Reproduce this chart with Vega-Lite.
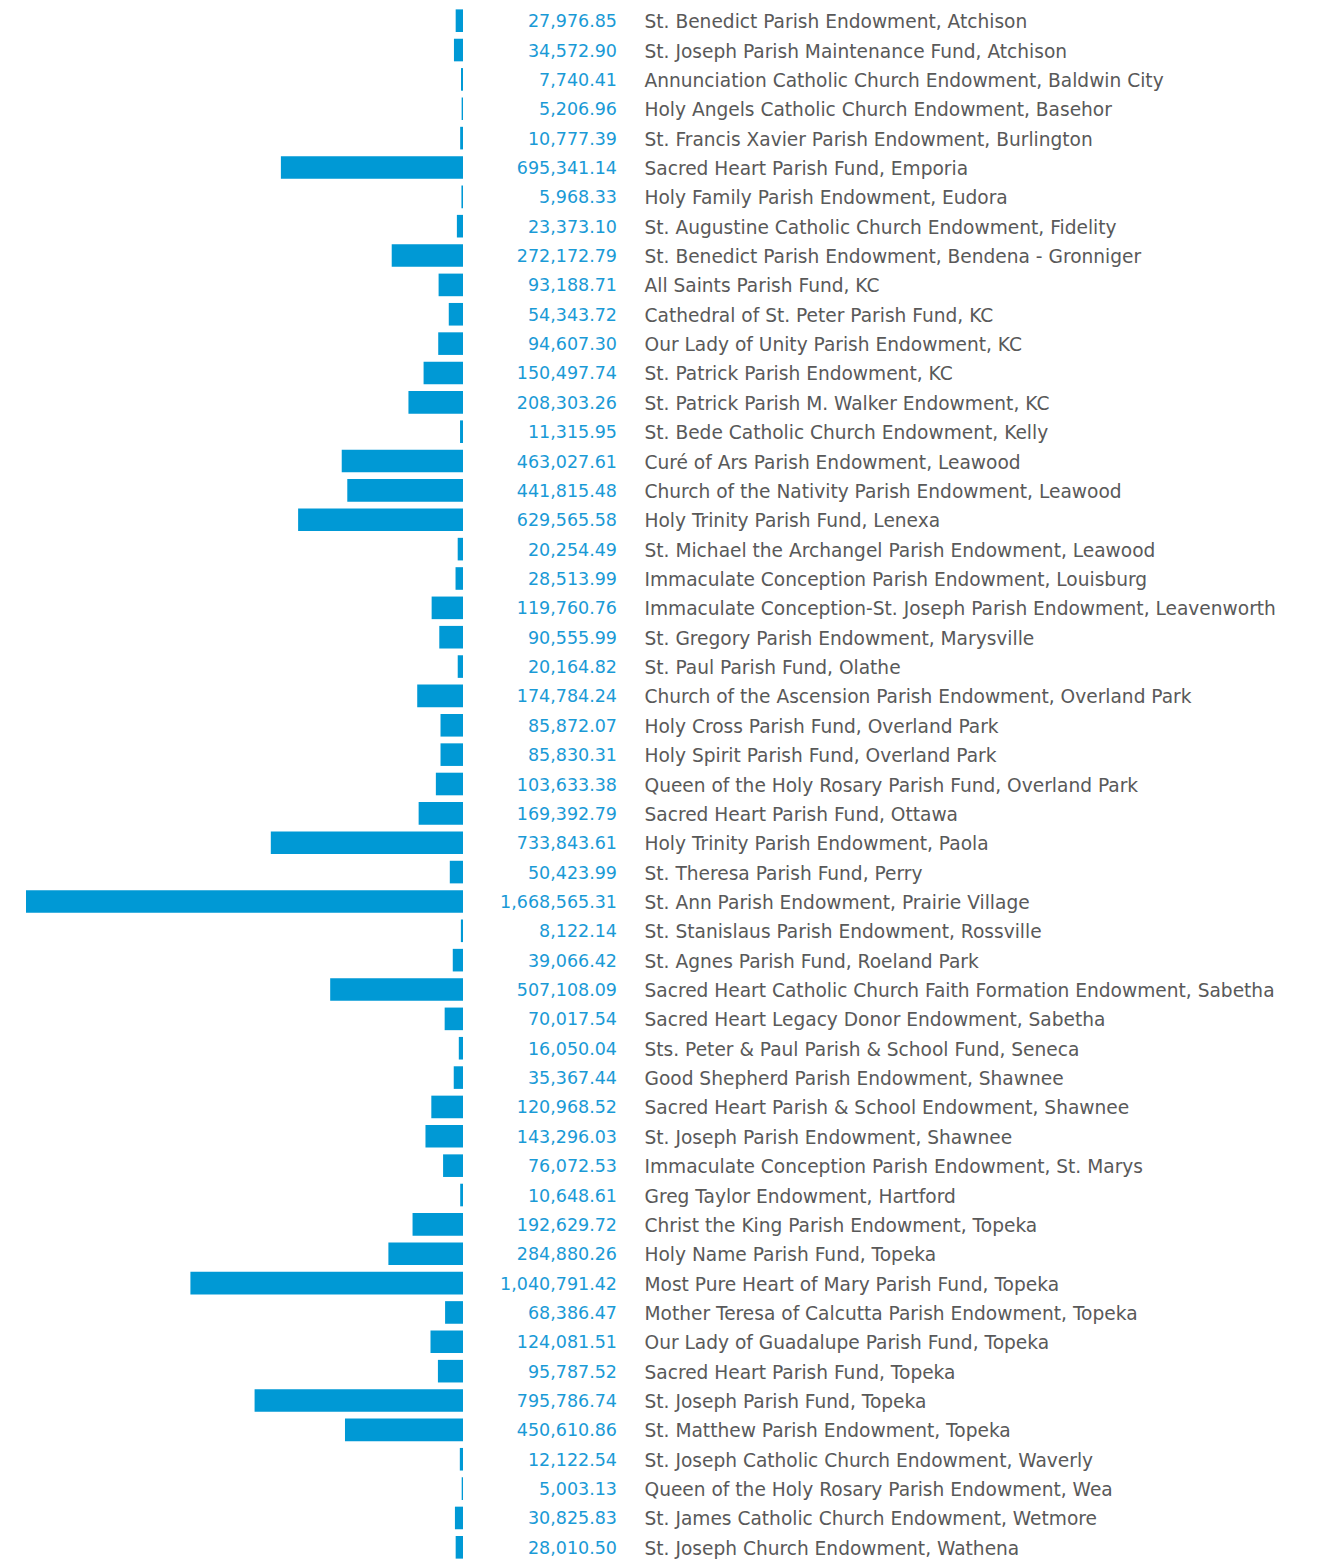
{
  "$schema": "https://vega.github.io/schema/vega-lite/v6.json",
  "padding": {"left": 26, "top": 6, "right": 5, "bottom": 0},
  "width": 437,
  "height": 1556,
  "config": {"view": {"stroke": null}, "font": "DejaVu Sans"},
  "data": {"values": [
    {"order": 1, "name": "St. Benedict Parish Endowment, Atchison", "value": 27976.85},
    {"order": 2, "name": "St. Joseph Parish Maintenance Fund, Atchison", "value": 34572.90},
    {"order": 3, "name": "Annunciation Catholic Church Endowment, Baldwin City", "value": 7740.41},
    {"order": 4, "name": "Holy Angels Catholic Church Endowment, Basehor", "value": 5206.96},
    {"order": 5, "name": "St. Francis Xavier Parish Endowment, Burlington", "value": 10777.39},
    {"order": 6, "name": "Sacred Heart Parish Fund, Emporia", "value": 695341.14},
    {"order": 7, "name": "Holy Family Parish Endowment, Eudora", "value": 5968.33},
    {"order": 8, "name": "St. Augustine Catholic Church Endowment, Fidelity", "value": 23373.10},
    {"order": 9, "name": "St. Benedict Parish Endowment, Bendena - Gronniger", "value": 272172.79},
    {"order": 10, "name": "All Saints Parish Fund, KC", "value": 93188.71},
    {"order": 11, "name": "Cathedral of St. Peter Parish Fund, KC", "value": 54343.72},
    {"order": 12, "name": "Our Lady of Unity Parish Endowment, KC", "value": 94607.30},
    {"order": 13, "name": "St. Patrick Parish Endowment, KC", "value": 150497.74},
    {"order": 14, "name": "St. Patrick Parish M. Walker Endowment, KC", "value": 208303.26},
    {"order": 15, "name": "St. Bede Catholic Church Endowment, Kelly", "value": 11315.95},
    {"order": 16, "name": "Curé of Ars Parish Endowment, Leawood", "value": 463027.61},
    {"order": 17, "name": "Church of the Nativity Parish Endowment, Leawood", "value": 441815.48},
    {"order": 18, "name": "Holy Trinity Parish Fund, Lenexa", "value": 629565.58},
    {"order": 19, "name": "St. Michael the Archangel Parish Endowment, Leawood", "value": 20254.49},
    {"order": 20, "name": "Immaculate Conception Parish Endowment, Louisburg", "value": 28513.99},
    {"order": 21, "name": "Immaculate Conception-St. Joseph Parish Endowment, Leavenworth", "value": 119760.76},
    {"order": 22, "name": "St. Gregory Parish Endowment, Marysville", "value": 90555.99},
    {"order": 23, "name": "St. Paul Parish Fund, Olathe", "value": 20164.82},
    {"order": 24, "name": "Church of the Ascension Parish Endowment, Overland Park", "value": 174784.24},
    {"order": 25, "name": "Holy Cross Parish Fund, Overland Park", "value": 85872.07},
    {"order": 26, "name": "Holy Spirit Parish Fund, Overland Park", "value": 85830.31},
    {"order": 27, "name": "Queen of the Holy Rosary Parish Fund, Overland Park", "value": 103633.38},
    {"order": 28, "name": "Sacred Heart Parish Fund, Ottawa", "value": 169392.79},
    {"order": 29, "name": "Holy Trinity Parish Endowment, Paola", "value": 733843.61},
    {"order": 30, "name": "St. Theresa Parish Fund, Perry", "value": 50423.99},
    {"order": 31, "name": "St. Ann Parish Endowment, Prairie Village", "value": 1668565.31},
    {"order": 32, "name": "St. Stanislaus Parish Endowment, Rossville", "value": 8122.14},
    {"order": 33, "name": "St. Agnes Parish Fund, Roeland Park", "value": 39066.42},
    {"order": 34, "name": "Sacred Heart Catholic Church Faith Formation Endowment, Sabetha", "value": 507108.09},
    {"order": 35, "name": "Sacred Heart Legacy Donor Endowment, Sabetha", "value": 70017.54},
    {"order": 36, "name": "Sts. Peter & Paul Parish & School Fund, Seneca", "value": 16050.04},
    {"order": 37, "name": "Good Shepherd Parish Endowment, Shawnee", "value": 35367.44},
    {"order": 38, "name": "Sacred Heart Parish & School Endowment, Shawnee", "value": 120968.52},
    {"order": 39, "name": "St. Joseph Parish Endowment, Shawnee", "value": 143296.03},
    {"order": 40, "name": "Immaculate Conception Parish Endowment, St. Marys", "value": 76072.53},
    {"order": 41, "name": "Greg Taylor Endowment, Hartford", "value": 10648.61},
    {"order": 42, "name": "Christ the King Parish Endowment, Topeka", "value": 192629.72},
    {"order": 43, "name": "Holy Name Parish Fund, Topeka", "value": 284880.26},
    {"order": 44, "name": "Most Pure Heart of Mary Parish Fund, Topeka", "value": 1040791.42},
    {"order": 45, "name": "Mother Teresa of Calcutta Parish Endowment, Topeka", "value": 68386.47},
    {"order": 46, "name": "Our Lady of Guadalupe Parish Fund, Topeka", "value": 124081.51},
    {"order": 47, "name": "Sacred Heart Parish Fund, Topeka", "value": 95787.52},
    {"order": 48, "name": "St. Joseph Parish Fund, Topeka", "value": 795786.74},
    {"order": 49, "name": "St. Matthew Parish Endowment, Topeka", "value": 450610.86},
    {"order": 50, "name": "St. Joseph Catholic Church Endowment, Waverly", "value": 12122.54},
    {"order": 51, "name": "Queen of the Holy Rosary Parish Endowment, Wea", "value": 5003.13},
    {"order": 52, "name": "St. James Catholic Church Endowment, Wetmore", "value": 30825.83},
    {"order": 53, "name": "St. Joseph Church Endowment, Wathena", "value": 28010.50}
  ]},
  "encoding": {
    "y": {
      "field": "name",
      "type": "nominal",
      "sort": {"field": "order", "op": "min", "order": "ascending"},
      "scale": {"paddingInner": 0.23, "paddingOuter": 0.115},
      "axis": {
        "orient": "right",
        "title": null,
        "domain": false,
        "ticks": false,
        "labelPadding": 181,
        "labelAlign": "left",
        "labelLimit": 0,
        "labelOffset": 1.5,
        "labelFont": "DejaVu Sans",
        "labelFontSize": 18.6,
        "labelColor": "#595959"
      }
    }
  },
  "layer": [
    {
      "mark": {"type": "bar", "color": "#0099d5"},
      "encoding": {
        "x": {
          "field": "value",
          "type": "quantitative",
          "scale": {"domain": [0, 1668565.31], "reverse": true, "nice": false, "zero": true},
          "axis": null
        }
      }
    },
    {
      "mark": {"type": "text", "align": "right", "baseline": "middle", "dx": 154, "dy": 1.5, "fontSize": 17.5, "font": "DejaVu Sans", "color": "#1a9ad6"},
      "encoding": {
        "x": {"datum": 0, "type": "quantitative"},
        "text": {"field": "value", "type": "quantitative", "format": ",.2f"}
      }
    }
  ]
}
